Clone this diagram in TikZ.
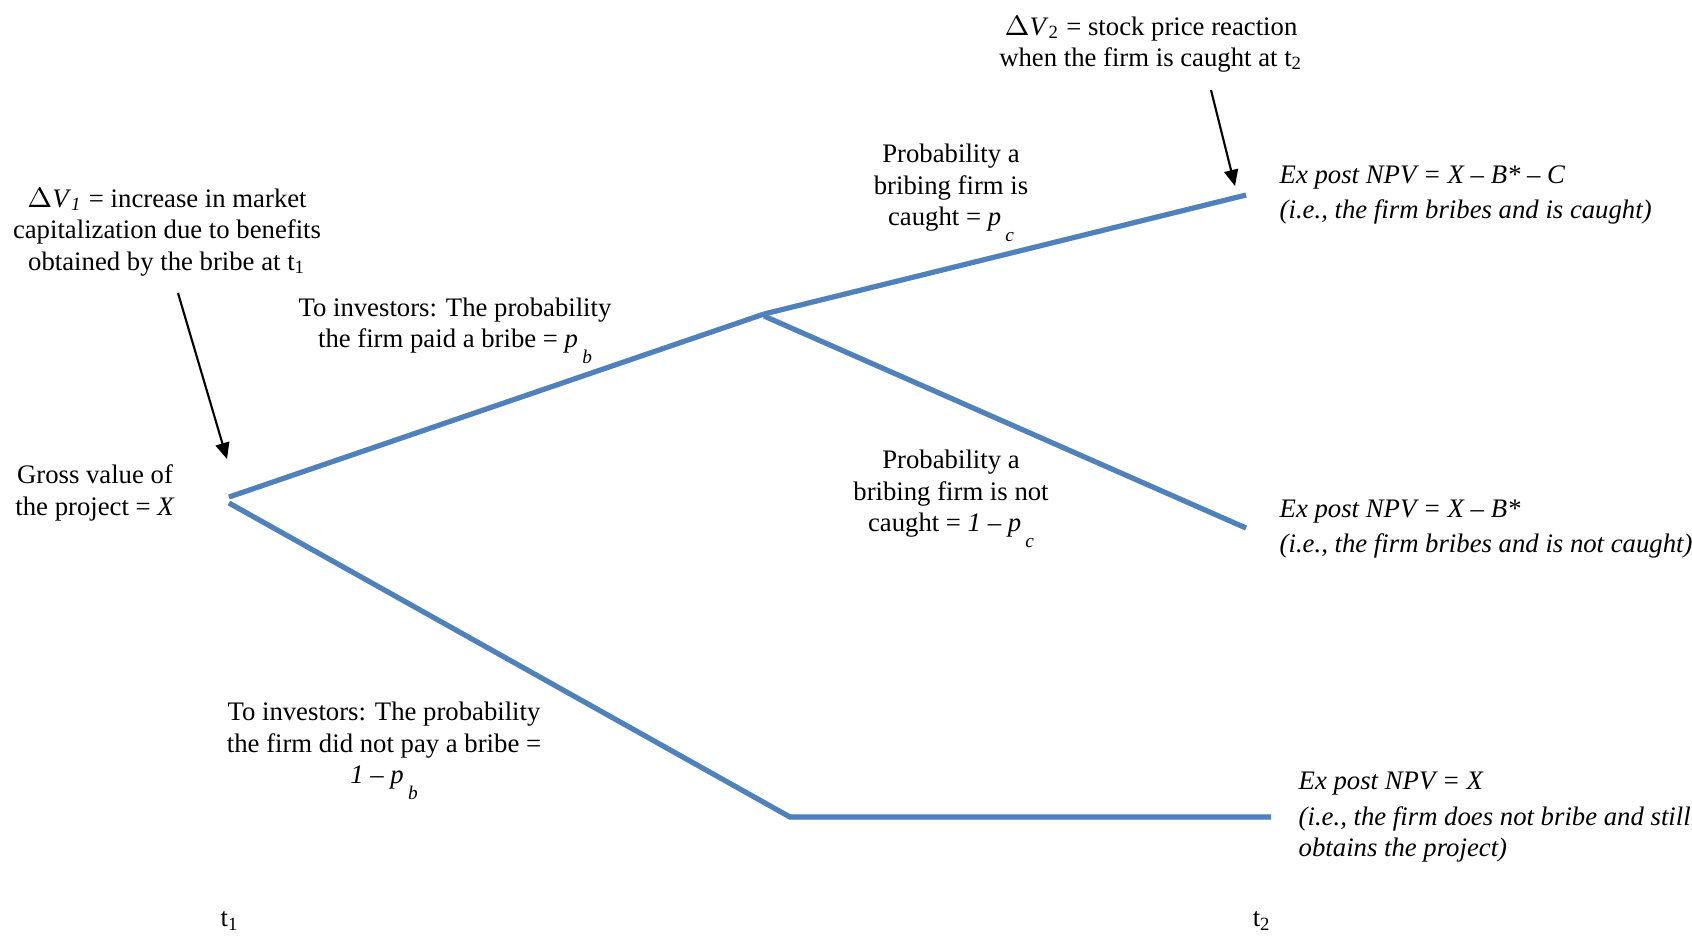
\documentclass[tikz,border=0pt]{standalone}
\usepackage{fontspec}
\setmainfont{Liberation Serif}
\usetikzlibrary{arrows.meta}
\definecolor{branch}{HTML}{4F81BD}
\newcommand\lsub[1]{\hspace{1.2pt}\raisebox{-4.6pt}{\fontsize{5.5}{6}\selectfont\itshape #1}}
\newcommand\isub[1]{\textsubscript{\itshape #1}}
\tikzset{
  lbl/.style={font=\fontsize{7.6}{8.9}\selectfont, align=center, inner sep=0pt},
  outc/.style={font=\fontsize{7.6}{8.9}\selectfont\itshape, align=left, inner sep=0pt, anchor=west},
  branchline/.style={draw=branch, line width=1.45pt},
  shadowline/.style={draw=black!18, line width=1.45pt},
  pointer/.style={draw=black, line width=0.6pt, -{Triangle[length=4.6pt,width=4pt]}},
}
\begin{document}
\begin{tikzpicture}[x=0.01cm,y=-0.01cm]
\useasboundingbox (0,0) rectangle (1692,935);
% branch points
\coordinate (root) at (229,497);
\coordinate (rootb) at (229,503);
\coordinate (mid) at (764,314);
\coordinate (midb) at (764,316);
\coordinate (endc) at (1246,195);
\coordinate (endn) at (1246,528);
\coordinate (bend) at (790,817);
\coordinate (endx) at (1271,817);
% shadows
\begin{scope}[shift={(1.5,2.5)}]
\draw[shadowline] (root) -- (mid) -- (endc);
\draw[shadowline] (midb) -- (endn);
\draw[shadowline] (rootb) -- (bend) -- (endx);
\end{scope}
% branches
\draw[branchline] (root) -- (mid);
\draw[branchline] (mid) -- (endc);
\draw[branchline] (midb) -- (endn);
\draw[branchline] (rootb) -- (bend) -- (endx);
% pointers
\coordinate (a1s) at (178,293);
\coordinate (a1e) at (227,459);
\coordinate (a2s) at (1211,90);
\coordinate (a2e) at (1235,186);
\draw[pointer] (a1s) -- (a1e);
\draw[pointer] (a2s) -- (a2e);
% labels
\node[lbl] (dv1) at (167,232) {$\Delta$\textit{V}\isub{1} = increase in market\\capitalization due to benefits\\obtained by the bribe at t\textsubscript{1}};
\node[lbl] (dv2) at (1151,44) {$\Delta$\textit{V}\textsubscript{2} = stock price reaction\\when the firm is caught at t\textsubscript{2}};
\node[lbl] (pc) at (951,193) {Probability a\\bribing firm is\\caught = \textit{p}\lsub{c}};
\node[lbl] (pb) at (455,331) {To investors: The probability\\the firm paid a bribe = \textit{p}\lsub{b}};
\node[lbl] (npc) at (951,499) {Probability a\\bribing firm is not\\caught = \textit{1} – \textit{p}\lsub{c}};
\node[lbl] (gross) at (95,493) {Gross value of\\the project = \textit{X}};
\node[lbl] (npb) at (384,751) {To investors: The probability\\the firm did not pay a bribe =\\\textit{1} – \textit{p}\lsub{b}};
\node[outc] (out1) at (1279,195) {Ex post NPV = X – B* – C\\[1.2pt](i.e., the firm bribes and is caught)};
\node[outc] (out2) at (1279,529) {Ex post NPV = X – B*\\[1.2pt](i.e., the firm bribes and is not caught)};
\node[outc] (out3) at (1298,817) {Ex post NPV = X\\[1.2pt](i.e., the firm does not bribe and still\\obtains the project)};
\node[lbl] (t1) at (230,921) {t\textsubscript{1}};
\node[lbl] (t2) at (1262,921) {t\textsubscript{2}};
\end{tikzpicture}
\end{document}
